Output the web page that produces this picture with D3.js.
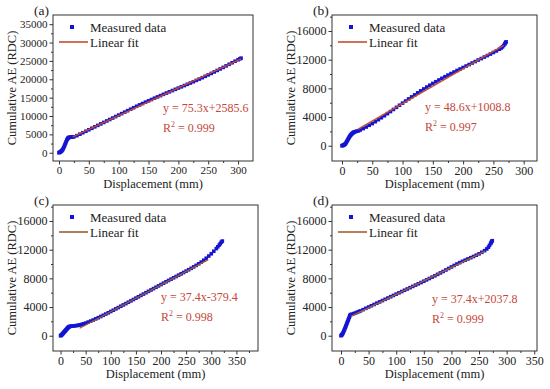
<!DOCTYPE html>
<html>
<head>
<meta charset="utf-8">
<script src="https://cdn.jsdelivr.net/npm/d3@7/dist/d3.min.js"></script>
<style>
  body { margin: 0; background: #fff; }
  svg, svg text { font-family: 'Liberation Serif', 'Times New Roman', Times, serif !important; }
  svg text { fill: #222; }
</style>
</head>
<body>
<script>
// ---- data ----
var aX = [0,1,2,3,4,5,6,7,8,9,10,11,12,13,14,15,16,17,19,21,23,25,30,35,40,45,50,55,60,65,70,75,80,85,90,95,100,105,110,115,120,125,130,135,140,145,150,155,160,165,170,175,180,185,190,195,200,205,210,215,220,225,230,235,240,245,250,255,260,265,270,275,280,285,290,295,300,303,305];
var aY = [0,100,200,300,450,600,800,1100,1400,1800,2200,2600,3000,3400,3700,3950,4100,4200,4250,4280,4300,4350,4650,5050,5450,5850,6250,6650,7050,7450,7850,8250,8650,9050,9450,9850,10250,10650,11050,11450,11850,12250,12650,13030,13400,13770,14130,14490,14850,15200,15550,15900,16250,16590,16930,17270,17610,17950,18290,18630,18980,19330,19690,20060,20430,20810,21200,21590,21990,22400,22810,23230,23650,24080,24500,24920,25300,25550,25750];

var bX = [0,1,2,3,4,5,6,7,8,9,10,11,12,13,14,15,16,17,18,19,20,22,24,27,30,35,40,45,50,55,60,65,70,75,80,85,90,95,100,105,110,115,120,125,130,135,140,145,150,155,160,165,170,175,180,185,190,195,200,205,210,215,220,225,230,235,240,245,250,255,260,263,265,267,269,270,271];
var bY = [0,30,60,100,150,220,320,450,600,750,900,1050,1200,1330,1450,1550,1640,1720,1790,1850,1900,1960,2020,2070,2190,2390,2610,2850,3090,3350,3625,3900,4180,4475,4765,5060,5355,5645,5940,6230,6525,6810,7090,7375,7650,7915,8180,8435,8685,8925,9165,9400,9625,9850,10065,10280,10495,10700,10910,11115,11325,11535,11740,11950,12155,12365,12575,12785,13000,13220,13455,13630,13790,13985,14200,14380,14480];

var cX = [0,1,2,3,4,5,6,7,8,9,10,11,12,13,14,15,16,17,18,20,22,25,28,31,34,37,40,43,46,50,55,60,65,70,75,80,85,90,95,100,105,110,115,120,125,130,135,140,145,150,155,160,165,170,175,180,185,190,195,200,205,210,215,220,225,230,235,240,245,250,255,260,265,270,275,280,285,290,295,300,305,310,313,316,318,320,322];
var cY = [0,50,100,180,260,340,420,500,580,660,740,820,900,980,1060,1140,1200,1250,1290,1320,1340,1360,1380,1410,1440,1480,1530,1590,1660,1760,1900,2040,2190,2350,2510,2680,2850,3020,3200,3380,3560,3745,3930,4115,4300,4485,4670,4860,5050,5240,5430,5620,5810,6000,6190,6380,6570,6760,6950,7140,7330,7520,7705,7890,8075,8260,8445,8630,8820,9010,9200,9400,9600,9810,10030,10270,10530,10810,11110,11430,11780,12150,12400,12650,12850,13050,13200];

var dX = [0,1,2,3,4,5,6,7,8,9,10,11,12,13,14,15,16,17,20,23,26,29,32,35,40,45,50,55,60,65,70,75,80,85,90,95,100,105,110,115,120,125,130,135,140,145,150,155,160,165,170,175,180,185,190,195,200,205,210,215,220,225,230,235,240,245,250,255,260,264,267,269,271,272,273,274];
var dY = [0,80,180,300,450,620,800,990,1180,1380,1580,1780,1980,2180,2380,2580,2780,2950,3000,3080,3170,3260,3360,3460,3640,3820,4000,4180,4360,4540,4720,4900,5080,5260,5440,5620,5800,5980,6160,6340,6520,6700,6880,7060,7240,7420,7600,7790,7980,8170,8360,8560,8760,8960,9170,9380,9590,9800,10000,10190,10370,10540,10710,10880,11050,11230,11420,11630,11860,12100,12350,12600,12850,13000,13150,13250];

// fit results as printed: slope, intercept, R2, x range of fitted line
var panelLabels = ['(a)', '(b)', '(c)', '(d)'];
var fitSlope = [75.3, 48.6, 37.4, 37.4];
var fitIntercept = [2585.6, 1008.8, -379.4, 2037.8];
var fitEquation = ['y = 75.3x+2585.6', 'y = 48.6x+1008.8', 'y = 37.4x-379.4', 'y = 37.4x+2037.8'];
var fitR2 = ['0.999', '0.997', '0.998', '0.999'];
var fitRange = [[23, 305], [26, 267], [38, 294], [18, 261]];

var xTicksA = [0,50,100,150,200,250,300];
var xTicksC = [0,50,100,150,200,250,300,350];
var yTicksA = [0,5000,10000,15000,20000,25000,30000,35000];
var yTicksB = [0,4000,8000,12000,16000];

var legendLabels = ['Measured data', 'Linear fit'];

// ---- layout ----
var W = 550, H = 389;
var FONT = "'Liberation Serif', 'Times New Roman', Times, serif";
var svg = d3.select('body').append('svg')
    .attr('width', W).attr('height', H)
    .attr('font-family', FONT);

var panels = [
  {xs: aX, ys: aY, left: 53, right: 253, top: 15, bottom: 161, xd: [-10, 325], yd: [-2250, 37500], xt: xTicksA, yt: yTicksA, fs: 11, lineColor: '#c84a2c', ann: [110, 97]},
  {xs: bX, ys: bY, left: 332, right: 537, top: 15, bottom: 161, xd: [-16.5, 322], yd: [-2130, 18230], xt: xTicksA, yt: yTicksB, fs: 12, lineColor: '#c24e2e', ann: [93, 96]},
  {xs: cX, ys: cY, left: 53, right: 258, top: 205, bottom: 351, xd: [-15, 393], yd: [-2130, 18230], xt: xTicksC, yt: yTicksB, fs: 12, lineColor: '#9e5e2c', ann: [108, 96]},
  {xs: dX, ys: dY, left: 332, right: 537, top: 205, bottom: 351, xd: [-16.3, 355], yd: [-2130, 18230], xt: xTicksC, yt: yTicksB, fs: 12, lineColor: '#a8602e', ann: [100, 98]}
];

panels.forEach(function(p, i) { drawPanel(p, i); });

function drawPanel(p, i) {
  var x = d3.scaleLinear().domain(p.xd).range([p.left, p.right]);
  var y = d3.scaleLinear().domain(p.yd).range([p.bottom, p.top]);
  var g = svg.append('g');

  // minor ticks
  var xMinor = p.xt.map(function(d) { return d + 25; }).filter(function(d) { return d < p.xd[1]; });
  var yStep = p.yt[1] - p.yt[0];
  var yMinor = p.yt.map(function(d) { return d + yStep / 2; }).filter(function(d) { return d < p.yd[1]; });

  g.append('g')
    .attr('transform', 'translate(0,' + p.bottom + ')')
    .call(d3.axisBottom(x).tickValues(xMinor).tickSize(2).tickSizeOuter(0).tickFormat(''));
  g.append('g')
    .attr('transform', 'translate(' + p.left + ',0)')
    .call(d3.axisLeft(y).tickValues(yMinor).tickSize(2).tickSizeOuter(0).tickFormat(''));

  // x axis
  var xa = g.append('g')
    .attr('transform', 'translate(0,' + p.bottom + ')')
    .call(d3.axisBottom(x).tickValues(p.xt).tickSize(3.5).tickSizeOuter(0).tickPadding(2).tickFormat(d3.format('d')));

  // y axis
  var ya = g.append('g')
    .attr('transform', 'translate(' + p.left + ',0)')
    .call(d3.axisLeft(y).tickValues(p.yt).tickSize(3.5).tickSizeOuter(0).tickPadding(2).tickFormat(d3.format('d')));

  [xa, ya].forEach(function(ax) {
    ax.attr('font-family', FONT).attr('font-size', p.fs);
    ax.selectAll('text').attr('fill', '#222');
  });

  g.selectAll('.domain').remove();
  g.selectAll('.tick line').attr('stroke', '#333');

  // frame
  g.append('rect')
    .attr('x', p.left).attr('y', p.top)
    .attr('width', p.right - p.left).attr('height', p.bottom - p.top)
    .attr('fill', 'none').attr('stroke', '#333').attr('stroke-width', 1);

  // axis titles
  g.append('text')
    .attr('x', (p.left + p.right) / 2)
    .attr('y', p.bottom + 27)
    .attr('text-anchor', 'middle')
    .attr('font-size', 12.5)
    .text('Displacement (mm)');

  g.append('text')
    .attr('transform', 'rotate(-90)')
    .attr('x', -(p.top + p.bottom) / 2)
    .attr('y', p.left - 37)
    .attr('text-anchor', 'middle')
    .attr('font-size', 12.5)
    .text('Cumulative AE (RDC)');

  // panel label
  g.append('text')
    .attr('x', p.left - 19)
    .attr('y', p.top)
    .attr('font-size', 13.5)
    .text(panelLabels[i]);

  // measured points
  var pts = p.xs.map(function(d, k) { return [d, p.ys[k]]; });
  g.append('g').selectAll('rect')
    .data(pts)
    .enter().append('rect')
    .attr('x', function(d) { return x(d[0]) - 1.8; })
    .attr('y', function(d) { return y(d[1]) - 1.8; })
    .attr('width', 3.6).attr('height', 3.6)
    .attr('fill', '#1414d2');

  // linear fit
  var fitLine = d3.line()
    .x(function(d) { return x(d); })
    .y(function(d) { return y(fitSlope[i] * d + fitIntercept[i]); });
  g.append('path')
    .datum(fitRange[i])
    .attr('fill', 'none')
    .attr('stroke', p.lineColor)
    .attr('stroke-width', 1.4)
    .attr('d', fitLine);

  // legend
  g.append('rect')
    .attr('x', p.left + 17).attr('y', p.top + 10)
    .attr('width', 4).attr('height', 4)
    .attr('fill', '#1414d2');
  g.append('text')
    .attr('x', p.left + 37).attr('y', p.top + 16.5)
    .attr('font-size', 13)
    .text(legendLabels[0]);
  g.append('line')
    .attr('x1', p.left + 6).attr('x2', p.left + 35)
    .attr('y1', p.top + 27).attr('y2', p.top + 27)
    .attr('stroke', p.lineColor).attr('stroke-width', 1.6);
  g.append('text')
    .attr('x', p.left + 37).attr('y', p.top + 31.5)
    .attr('font-size', 13)
    .text(legendLabels[1]);

  // fit annotation
  var annColor = '#c4473a';
  g.append('text')
    .attr('x', p.left + p.ann[0]).attr('y', p.top + p.ann[1])
    .attr('font-size', 12)
    .style('fill', annColor)
    .text(fitEquation[i]);
  var r2 = g.append('text')
    .attr('x', p.left + p.ann[0]).attr('y', p.top + p.ann[1] + 20)
    .attr('font-size', 12)
    .style('fill', annColor);
  r2.append('tspan').text('R');
  r2.append('tspan').attr('dy', -5).attr('font-size', 8).text('2');
  r2.append('tspan').attr('dy', 5).text(' = ' + fitR2[i]);
}
</script>
</body>
</html>
